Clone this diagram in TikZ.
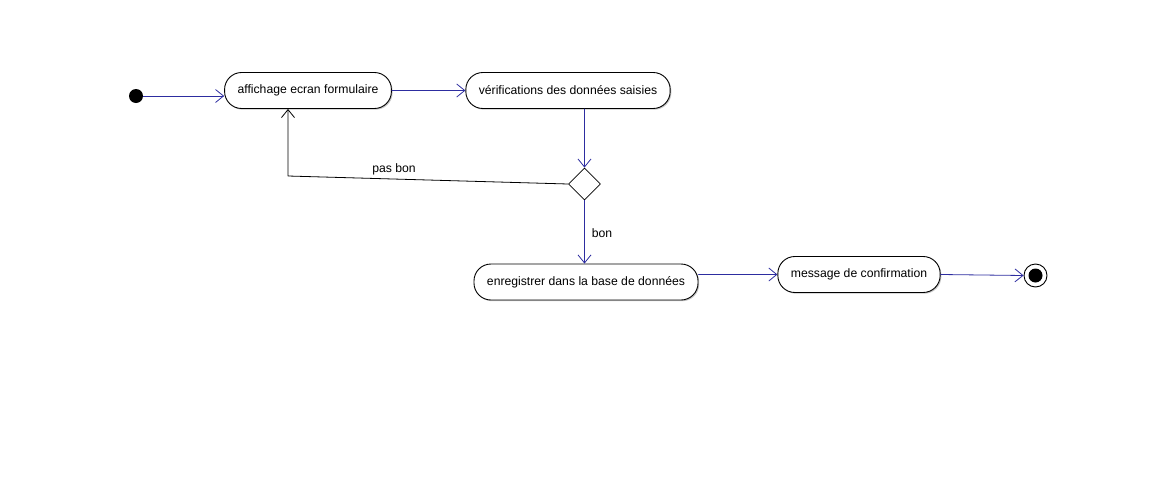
\documentclass[tikz,border=0pt]{standalone}
\usepackage{fontspec}
\setmainfont{Liberation Sans}
\usepackage{xcolor}
\usetikzlibrary{arrows,arrows.meta,shapes.geometric,shadows}
\definecolor{flowblue}{RGB}{45,45,160}

\begin{document}
\begin{tikzpicture}[line cap=round,line join=round,>={Straight Barb[length=8pt,width=13pt]},x=1pt,y=-1pt,
  activity/.style={draw, line width=0.9pt, fill=white, rounded corners=17pt, minimum height=36pt, inner xsep=13pt, font=\fontsize{12.2}{14}\selectfont, drop shadow={shadow xshift=1.2pt, shadow yshift=-1.2pt, fill=black!45}},
  flow/.style={->, color=flowblue, line width=0.8pt},
  back/.style={->, color=black, line width=0.8pt},
  guard/.style={font=\fontsize{12.2}{14}\selectfont},
  startst/.style={circle, fill=black, inner sep=0pt, minimum size=14pt},
  endst/.style={circle, draw, line width=0.9pt, fill=white, inner sep=0pt, minimum size=23pt},
  enddot/.style={circle, fill=black, inner sep=0pt, minimum size=14pt},
  choice/.style={diamond, draw, line width=0.8pt, fill=white, inner sep=0pt, minimum size=32pt}]
\useasboundingbox (0,0) rectangle (1176,485);

% etats
\node[startst] (start) at (136,96) {};
\node[activity] (aff) at (308,90.5) {affichage ecran formulaire};
\node[activity] (verif) at (568,90.5) {vérifications des données saisies};
\node[choice] (dec) at (584.5,184) {};
\node[activity] (enreg) at (586,282) {enregistrer dans la base de données};
\node[activity] (msg) at (859,274.5) {message de confirmation};
\node[endst] (end) at (1035.5,275.5) {};
\node[enddot] (enddot) at (end) {};

% transitions
\draw[flow] (start) -- (start -| aff.west);
\draw[flow] (aff.east) -- (verif.west);
\draw[flow] (verif.south -| dec) -- (dec.north);
\coordinate (bend) at (288,176);
\draw[back] (dec.west) -- (bend) -- (bend |- aff.south);
\draw[flow] (dec.south) -- (dec |- enreg.north);
\draw[flow] (msg.west -| enreg.east) -- (msg.west);
\draw[flow] (msg.east) -- (end.west);

% gardes
\node[guard] (pasbon) at (394,169) {pas bon};
\node[guard] (bon) at (602,233) {bon};

\end{tikzpicture}
\end{document}
